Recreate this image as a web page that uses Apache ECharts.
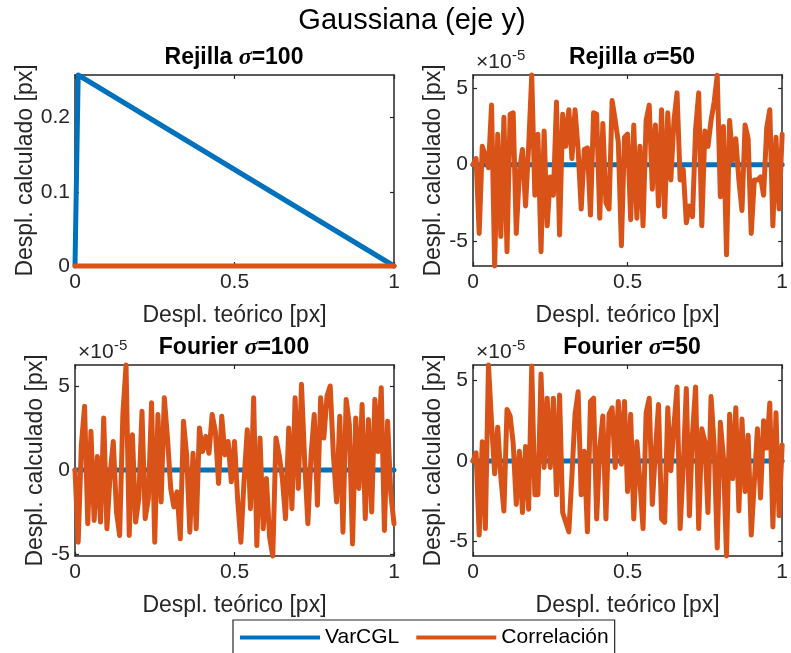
<!DOCTYPE html>
<html>
<head>
<meta charset="utf-8">
<script src="https://cdn.jsdelivr.net/npm/echarts@6/dist/echarts.min.js"></script>
<style>
  html, body { margin: 0; padding: 0; background: #fff; }
  #chart { width: 791px; height: 653px; }
</style>
</head>
<body>
<div id="chart"></div>
<script>
// Desplazamiento teórico (px): malla de 0 a 1 con paso 0.01
const desplTeorico = Array.from({ length: 101 }, (_, i) => +(i / 100).toFixed(2));

// Rejilla, sigma = 100 (px)
const rejilla100X = [0, 0.01, 1];
const rejilla100VarCGL = [0, 0.2574, 0];
const rejilla100Correl = [0, 0, 0];

// Paneles con error residual (valores en unidades de 1e-5 px)
const ceroX = [0, 1];
const varcglCero = [0, 0];

const rejilla50Correl = [
  0, 0.4, -4.5, 1.2, 0.6, -0.2, 3.9, -6.63, 2.0, -4.7,
  3.1, -5.7, 3.3, 3.4, -4.5, -0.5, 1.0, -2.7, 1.2, 5.87,
  -2.0, 2.0, -5.7, 2.2, -4.0, -0.8, -2.0, 4.1, -4.6, 3.3,
  1.2, 3.6, 0.4, 3.6, 1.0, -2.9, 1.0, 1.1, -3.3, 3.4,
  3.3, -3.5, 2.7, -2.5, -2.9, 4.2, 2.9, 1.5, -5.3, 1.8,
  2.0, -3.6, 2.6, -3.5, 1.2, -4.0, 2.9, 3.9, -1.6, 2.6,
  -2.7, 3.6, -3.4, 3.4, -1.0, 2.9, 4.7, -1.0, -0.3, -3.8,
  -2.7, -3.4, 2.3, 4.7, -4.0, 2.2, 1.2, 2.9, 4.1, 5.85,
  -2.1, 2.5, -5.9, 2.9, 0.3, 1.7, -1.0, -3.0, 2.6, 1.7,
  -4.5, -1.0, -1.0, -0.8, -2.0, 2.4, 3.6, -4.0, 1.8, -2.9,
  2.0
];

const fourier100Correl = [
  0, -4.3, 1.5, 3.8, -3.2, 2.3, -3.0, 0.8, -3.1, 3.1,
  -3.5, -0.3, 1.7, -2.5, -3.9, 3.3, 6.25, -3.9, 2.1, -3.1,
  -1.7, 3.5, -2.9, -1.7, 4.0, -4.3, 3.3, -1.9, 4.3, 1.9,
  -1.1, -2.2, -1.3, -4.1, 2.9, 0.9, -3.7, 1.0, -3.5, 2.5,
  1.1, 2.0, 1.0, 3.3, 2.3, -0.8, 3.2, 0.9, 1.7, -0.7,
  1.7, -1.8, -4.3, -0.6, 2.4, -2.3, 4.3, -4.5, 1.9, -3.5,
  -0.5, -4.0, -5.12, 1.9, 0.9, -0.5, -2.9, 2.5, -2.3, 4.3,
  -1.1, 5.1, 0.5, -3.2, 0.9, 3.3, -2.1, 4.3, 1.9, 4.4,
  5.0, 0.9, -1.9, 3.2, -3.7, 4.2, 2.7, -4.4, 3.1, -1.1,
  3.9, -2.9, 3.0, -2.5, 4.2, 1.1, 4.9, -3.6, 2.9, -1.4,
  -3.2
];

const fourier50Correl = [
  0, 0.5, -4.6, 1.2, -4.2, 5.96, 2.4, -0.8, 2.1, -1.0,
  -3.1, 3.2, 2.8, 1.1, -2.7, 0.6, -3.2, 0.9, -3.0, 5.9,
  -2.1, -2.1, 5.4, -0.4, 3.9, -0.4, 3.9, -2.1, 4.1, -3.2,
  -3.8, -4.4, -0.9, 2.9, 4.3, -2.1, 0.6, -4.4, 3.7, 3.9,
  -3.6, 0.8, 2.8, -3.6, 2.9, 3.3, -0.4, 3.7, -0.2, 3.7,
  -1.9, 2.9, -3.6, 1.2, -1.3, -4.2, 3.0, 3.9, -2.7, 0.6,
  3.5, -3.6, -3.8, 3.3, -0.6, 2.2, 4.6, -4.2, -0.3, 4.5,
  -3.4, 1.7, 4.6, -4.2, 2.0, 1.2, -3.2, 4.0, 1.0, -5.4,
  2.4, 0.2, -5.9, 2.9, -1.1, 3.3, -3.1, 2.6, -1.9, 1.6,
  -4.6, -1.3, 2.0, -2.3, 2.5, 0.8, 3.6, -4.1, 3.0, -3.4,
  1.0
];

// Marcas de los ejes
const xTicks = [0, 0.5, 1];
const yTicksRejilla100 = [0, 0.1, 0.2];
const yTicksRuido = [-5, 0, 5];

const titulos = [
  { metodo: 'Rejilla', sigma: '100' },
  { metodo: 'Rejilla', sigma: '50' },
  { metodo: 'Fourier', sigma: '100' },
  { metodo: 'Fourier', sigma: '50' }
];

const AZUL = '#0072BD';
const NARANJA = '#D95319';
const EJE = '#262626';
const FUENTE = '"Liberation Sans", Arial, Helvetica, sans-serif';

function pares(xs, ys) {
  return xs.map((x, i) => [x, ys[i]]);
}

// Paneles: posición de cada caja de ejes
const cajas = [
  { left: 75, top: 75, width: 319, height: 191 },
  { left: 473, top: 75, width: 319, height: 191 },
  { left: 75, top: 365, width: 319, height: 191 },
  { left: 473, top: 365, width: 319, height: 191 }
];

const paneles = [
  { varX: rejilla100X, varY: rejilla100VarCGL, corX: rejilla100X, corY: rejilla100Correl, yTicks: yTicksRejilla100, exp: false, nameGap: 36 },
  { varX: ceroX, varY: varcglCero, corX: desplTeorico, corY: rejilla50Correl, yTicks: yTicksRuido, exp: true, nameGap: 24 },
  { varX: ceroX, varY: varcglCero, corX: desplTeorico, corY: fourier100Correl, yTicks: yTicksRuido, exp: true, nameGap: 24 },
  { varX: ceroX, varY: varcglCero, corX: desplTeorico, corY: fourier50Correl, yTicks: yTicksRuido, exp: true, nameGap: 24 }
];

const grid = [], xAxis = [], yAxis = [], series = [], title = [], graphic = [];

title.push({
  text: 'Gaussiana (eje y)',
  left: 412, top: 6, textAlign: 'center', padding: 0,
  textStyle: { fontSize: 29, fontWeight: 'normal', color: '#000', fontFamily: FUENTE }
});

paneles.forEach((p, k) => {
  const c = cajas[k];
  grid.push({ left: c.left, top: c.top, width: c.width, height: c.height, containLabel: false });

  const allY = p.varY.concat(p.corY);
  const yMin = Math.min(...allY);
  const yMax = Math.max(...allY);

  const ejeComun = {
    axisLine: { show: true, onZero: false, lineStyle: { color: EJE, width: 1.5 } },
    splitLine: { show: false }
  };

  // eje x inferior (con etiquetas) y superior (solo marcas)
  xAxis.push(Object.assign({
    gridIndex: k, type: 'value', min: 0, max: 1, interval: 0.5, position: 'bottom',
    axisTick: { show: true, inside: true, length: 4, lineStyle: { color: EJE, width: 1.2 } },
    axisLabel: { show: true, fontSize: 21, color: EJE, margin: 6, fontFamily: FUENTE, showMinLabel: true, showMaxLabel: true, customValues: xTicks },
    name: 'Despl. teórico [px]', nameLocation: 'middle', nameGap: 38,
    nameTextStyle: { fontSize: 23, color: EJE, fontFamily: FUENTE }
  }, ejeComun));
  xAxis.push(Object.assign({
    gridIndex: k, type: 'value', min: 0, max: 1, interval: 0.5, position: 'top',
    axisTick: { show: true, inside: true, length: 4, lineStyle: { color: EJE, width: 1.2 } },
    axisLabel: { show: false }
  }, ejeComun));

  // eje y izquierdo (con etiquetas) y derecho (solo marcas)
  yAxis.push(Object.assign({
    gridIndex: k, type: 'value', min: yMin, max: yMax, position: 'left',
    axisTick: { show: true, inside: true, length: 4, customValues: p.yTicks, lineStyle: { color: EJE, width: 1.2 } },
    axisLabel: { show: true, fontSize: 21, color: EJE, margin: 5, fontFamily: FUENTE, customValues: p.yTicks },
    name: 'Despl. calculado [px]', nameLocation: 'middle', nameGap: p.nameGap, nameRotate: 90,
    nameTextStyle: { fontSize: 23, color: EJE, fontFamily: FUENTE }
  }, ejeComun));
  yAxis.push(Object.assign({
    gridIndex: k, type: 'value', min: yMin, max: yMax, position: 'right',
    axisTick: { show: true, inside: true, length: 4, customValues: p.yTicks, lineStyle: { color: EJE, width: 1.2 } },
    axisLabel: { show: false }
  }, ejeComun));

  const linea = (name, color, data) => ({
    name, type: 'line', xAxisIndex: 2 * k, yAxisIndex: 2 * k,
    data, symbol: 'none', clip: false, animation: false,
    lineStyle: { color, width: 5, join: 'round', cap: 'round' },
    itemStyle: { color }
  });
  series.push(linea('VarCGL', AZUL, pares(p.varX, p.varY)));
  series.push(linea('Correlación', NARANJA, pares(p.corX, p.corY)));

  // título del panel
  const t = titulos[k];
  title.push({
    text: '{b|' + t.metodo + ' }{s|σ}{b|=' + t.sigma + '}',
    left: c.left + c.width / 2 - 0.5, top: c.top - 29, textAlign: 'center', padding: 0,
    textStyle: {
      rich: {
        b: { fontSize: 23, fontWeight: 'bold', color: '#000', fontFamily: FUENTE },
        s: { fontSize: 24, fontWeight: 'bold', fontStyle: 'italic', color: '#000', fontFamily: '"Liberation Serif", "Times New Roman", serif' }
      }
    }
  });

  // factor de escala ×10^-5
  if (p.exp) {
    graphic.push({
      type: 'text', left: c.left + 3, top: c.top - 23,
      style: { text: '×10', fontSize: 21, fill: EJE, fontFamily: FUENTE }
    });
    graphic.push({
      type: 'text', left: c.left + 39, top: c.top - 27,
      style: { text: '-5', fontSize: 15, fill: EJE, fontFamily: FUENTE }
    });
  }
});

const chart = echarts.init(document.getElementById('chart'), null, { renderer: 'canvas' });
chart.setOption({
  backgroundColor: '#fff',
  animation: false,
  title,
  grid,
  xAxis,
  yAxis,
  series,
  graphic,
  legend: {
    data: ['VarCGL', 'Correlación'],
    left: 233, top: 620,
    icon: 'rect', itemWidth: 80, itemHeight: 4, itemGap: 17,
    padding: [7, 6, 7, 7],
    borderColor: EJE, borderWidth: 1.2,
    textStyle: { fontSize: 21, color: '#000', fontFamily: FUENTE },
    selectedMode: false
  }
});
</script>
</body>
</html>
